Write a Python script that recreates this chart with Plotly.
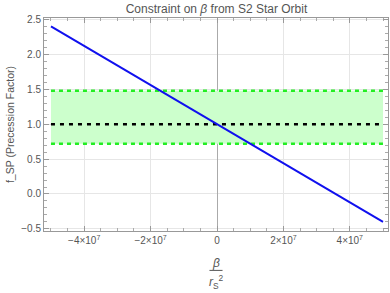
import plotly.graph_objects as go

beta_line = [-5e7, 5e7]
f_line = [2.4, -0.4]
band_x = [-5e7, 5e7]
band_low = [0.72, 0.72]
band_high = [1.48, 1.48]
ref_val = [1.0, 1.0]

x_tickvals = [-4e7, -2e7, 0, 2e7, 4e7]
x_ticktext = ["\u22124\u00d710<sup>7</sup>", "\u22122\u00d710<sup>7</sup>", "0",
              "2\u00d710<sup>7</sup>", "4\u00d710<sup>7</sup>"]
y_tickvals = [-0.5, 0.0, 0.5, 1.0, 1.5, 2.0, 2.5]
y_ticktext = ["\u22120.5", "0.0", "0.5", "1.0", "1.5", "2.0", "2.5"]

green = "#22ee22"
fig = go.Figure()
fig.add_trace(go.Scatter(x=band_x, y=band_low, mode="lines",
                         line=dict(color=green, width=2.5, dash="4px,4px"),
                         showlegend=False, hoverinfo="skip"))
fig.add_trace(go.Scatter(x=band_x, y=band_high, mode="lines", fill="tonexty",
                         fillcolor="#ccffcc",
                         line=dict(color=green, width=2.5, dash="4px,4px"),
                         showlegend=False, hoverinfo="skip"))
fig.add_trace(go.Scatter(x=band_x, y=ref_val, mode="lines",
                         line=dict(color="black", width=2.5, dash="4px,5px"),
                         showlegend=False))
fig.add_trace(go.Scatter(x=beta_line, y=f_line, mode="lines",
                         line=dict(color="#1010ee", width=2),
                         showlegend=False))

tickfont = dict(family="Liberation Sans, Arial, sans-serif", size=10, color="#555555")
axis_common = dict(showline=True, linecolor="#999999", linewidth=1, mirror="ticks",
                   ticks="inside", ticklen=5, tickcolor="#999999",
                   showgrid=True, gridcolor="#e6e6e6", gridwidth=1,
                   tickfont=tickfont, automargin=False,
                   minor=dict(ticks="inside", ticklen=3, tickcolor="#aaaaaa", showgrid=False))

fig.update_xaxes(range=[-5.21e7, 5.15e7], tickvals=x_tickvals, ticktext=x_ticktext,
                 zeroline=True, zerolinecolor="#aaaaaa", zerolinewidth=1,
                 minor_dtick=5e6, **axis_common)
fig.update_yaxes(range=[-0.53, 2.52], tickvals=y_tickvals, ticktext=y_ticktext,
                 zeroline=False, minor_dtick=0.1, title=dict(
                     text="f_SP (Precession Factor)",
                     font=dict(family="Liberation Sans, Arial, sans-serif", size=10.5, color="#555555"),
                     standoff=4),
                 **axis_common)

fig.update_layout(
    width=390, height=293,
    margin=dict(l=44, r=2, t=18, b=62, autoexpand=False),
    plot_bgcolor="white", paper_bgcolor="white",
    title=dict(text="Constraint on <i>\u03b2</i> from S2 Star Orbit",
               x=0.555, xanchor="center", y=0.985, yanchor="top",
               font=dict(family="Liberation Sans, Arial, sans-serif", size=12, color="#555555")),
    annotations=[
        dict(text="<i>\u03b2</i>", xref="paper", yref="paper", x=0.5, y=-0.148,
             xanchor="center", yanchor="middle", showarrow=False,
             font=dict(family="Liberation Sans, Arial, sans-serif", size=12, color="#555555")),
        dict(text="<i>r</i><sub>S</sub><sup>2</sup>", xref="paper", yref="paper", x=0.5, y=-0.238,
             xanchor="center", yanchor="middle", showarrow=False,
             font=dict(family="Liberation Sans, Arial, sans-serif", size=12, color="#555555")),
    ],
    shapes=[dict(type="line", xref="paper", yref="paper", x0=0.481, x1=0.519,
                 y0=-0.185, y1=-0.185, line=dict(color="#555555", width=1))],
)

fig.write_html("out.html", config={"displayModeBar": False},
               post_script="document.body.style.margin='0px';document.body.style.overflow='hidden';")
